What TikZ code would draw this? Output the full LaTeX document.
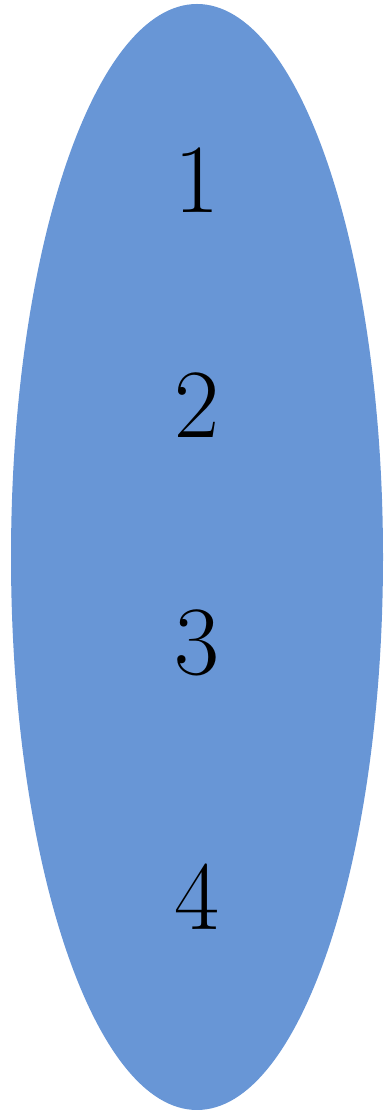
\documentclass[tikz,border=0pt]{standalone}
\usepackage{fontspec}
\usepackage{xcolor}
\usepackage{tikz}
\usetikzlibrary{positioning,shapes.geometric}
\definecolor{setblue}{RGB}{104,150,214}

\begin{document}
\begin{tikzpicture}[
  x=1pt,y=1pt,
  set/.style={ellipse,fill=setblue,inner sep=0pt,minimum width=372pt,minimum height=1106pt},
  elem/.style={font=\fontsize{98}{98}\selectfont,inner sep=0pt}
]
  \useasboundingbox (0,0) rectangle (383,1111);
  \node[set] (s) at (197,554) {};
  \node[elem] (e1) at (197,931) {1};
  \node[elem] (e2) at (197,706) {2};
  \node[elem] (e3) at (197,468) {3};
  \node[elem] (e4) at (197,214) {4};
\end{tikzpicture}
\end{document}
